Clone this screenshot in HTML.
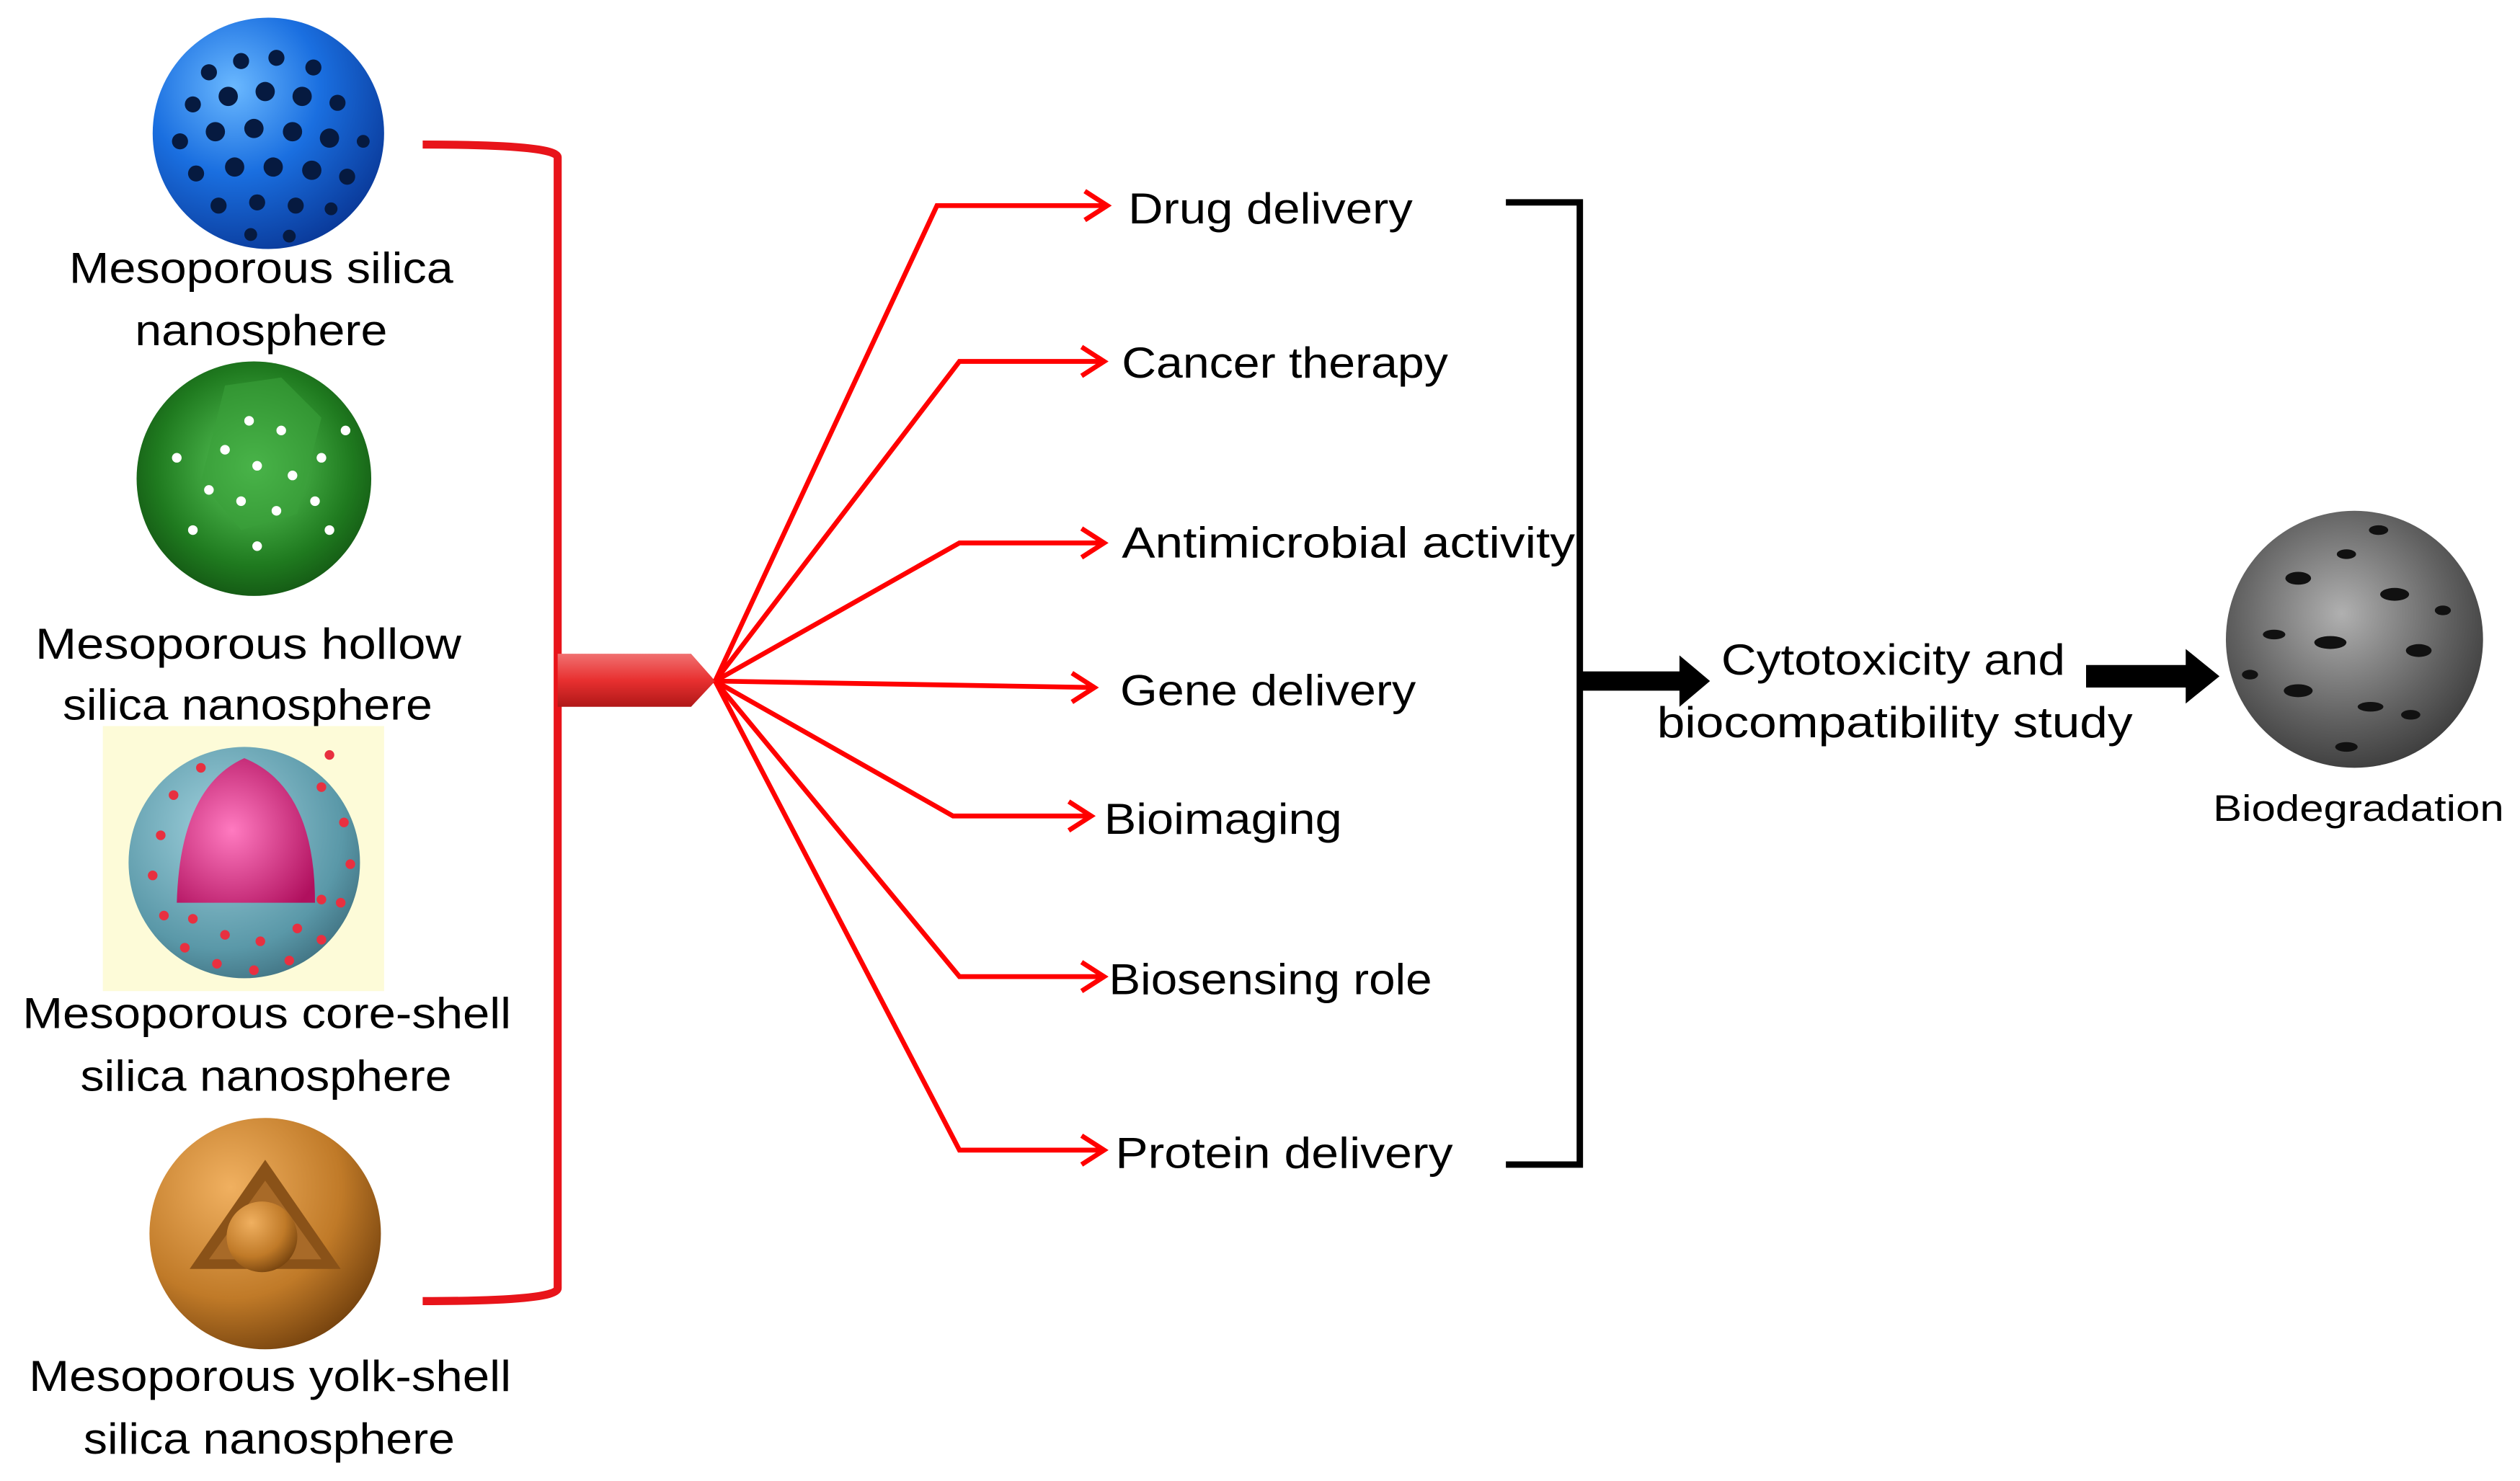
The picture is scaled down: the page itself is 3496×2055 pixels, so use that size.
<!DOCTYPE html>
<html><head><meta charset="utf-8"><style>
html,body{margin:0;padding:0;background:#fff;}
svg{display:block;}
text{font-family:"Liberation Sans",sans-serif;fill:#000;}
</style></head><body>
<svg width="3496" height="2055" viewBox="0 0 1568 922" preserveAspectRatio="none" xmlns="http://www.w3.org/2000/svg">
<defs>
<radialGradient id="gb" cx="0.35" cy="0.3" r="0.75"><stop offset="0" stop-color="#6ab8ff"/><stop offset="0.5" stop-color="#1a6fe0"/><stop offset="1" stop-color="#0a3a9a"/></radialGradient>
<radialGradient id="gg" cx="0.5" cy="0.45" r="0.7"><stop offset="0" stop-color="#5fd05f"/><stop offset="0.6" stop-color="#1f7a1f"/><stop offset="1" stop-color="#0a3a0a"/></radialGradient>
<radialGradient id="gt" cx="0.4" cy="0.35" r="0.75"><stop offset="0" stop-color="#9fd0dc"/><stop offset="0.7" stop-color="#5a98a8"/><stop offset="1" stop-color="#3a6878"/></radialGradient>
<radialGradient id="gm" cx="0.4" cy="0.5" r="0.7"><stop offset="0" stop-color="#ff7ac0"/><stop offset="1" stop-color="#b0105e"/></radialGradient>
<radialGradient id="go" cx="0.35" cy="0.3" r="0.8"><stop offset="0" stop-color="#f0b060"/><stop offset="0.6" stop-color="#c07a28"/><stop offset="1" stop-color="#6a3a0a"/></radialGradient>
<radialGradient id="gk" cx="0.45" cy="0.4" r="0.7"><stop offset="0" stop-color="#b0b0b0"/><stop offset="0.6" stop-color="#606060"/><stop offset="1" stop-color="#303030"/></radialGradient>
<linearGradient id="ar" x1="0" y1="0" x2="0" y2="1"><stop offset="0" stop-color="#f07070"/><stop offset="0.5" stop-color="#e83030"/><stop offset="1" stop-color="#b01818"/></linearGradient>
</defs>

<circle cx="167" cy="83" r="72" fill="url(#gb)"/>
<g fill="#061a40">
<circle cx="130" cy="45" r="5"/><circle cx="150" cy="38" r="5"/><circle cx="172" cy="36" r="5"/><circle cx="195" cy="42" r="5"/><circle cx="120" cy="65" r="5"/><circle cx="142" cy="60" r="6"/><circle cx="165" cy="57" r="6"/><circle cx="188" cy="60" r="6"/><circle cx="210" cy="64" r="5"/><circle cx="112" cy="88" r="5"/><circle cx="134" cy="82" r="6"/><circle cx="158" cy="80" r="6"/><circle cx="182" cy="82" r="6"/><circle cx="205" cy="86" r="6"/><circle cx="226" cy="88" r="4"/><circle cx="122" cy="108" r="5"/><circle cx="146" cy="104" r="6"/><circle cx="170" cy="104" r="6"/><circle cx="194" cy="106" r="6"/><circle cx="216" cy="110" r="5"/><circle cx="136" cy="128" r="5"/><circle cx="160" cy="126" r="5"/><circle cx="184" cy="128" r="5"/><circle cx="206" cy="130" r="4"/><circle cx="156" cy="146" r="4"/><circle cx="180" cy="147" r="4"/>
</g>
<text x="43" y="176" font-size="27" textLength="239" lengthAdjust="spacingAndGlyphs">Mesoporous silica</text>
<text x="84" y="215" font-size="27" textLength="157" lengthAdjust="spacingAndGlyphs">nanosphere</text>

<circle cx="158" cy="298" r="73" fill="url(#gg)"/>
<path d="M140 240 L175 235 L200 260 L185 320 L150 330 L125 300 Z" fill="#3aa03a" opacity="0.6"/>
<g fill="#fff">
<circle cx="155" cy="262" r="3"/><circle cx="175" cy="268" r="3"/><circle cx="140" cy="280" r="3"/><circle cx="160" cy="290" r="3"/><circle cx="182" cy="296" r="3"/><circle cx="200" cy="285" r="3"/><circle cx="130" cy="305" r="3"/><circle cx="150" cy="312" r="3"/><circle cx="172" cy="318" r="3"/><circle cx="196" cy="312" r="3"/><circle cx="120" cy="330" r="3"/><circle cx="205" cy="330" r="3"/><circle cx="160" cy="340" r="3"/><circle cx="215" cy="268" r="3"/><circle cx="110" cy="285" r="3"/>
</g>
<text x="22" y="410" font-size="27" textLength="265" lengthAdjust="spacingAndGlyphs">Mesoporous hollow</text>
<text x="39" y="448" font-size="27" textLength="230" lengthAdjust="spacingAndGlyphs">silica nanosphere</text>

<rect x="64" y="452" width="175" height="165" fill="#fdfbd8"/>
<circle cx="152" cy="537" r="72" fill="url(#gt)"/>
<g fill="#e83040">
<circle cx="100" cy="520" r="3"/><circle cx="95" cy="545" r="3"/><circle cx="102" cy="570" r="3"/><circle cx="115" cy="590" r="3"/><circle cx="135" cy="600" r="3"/><circle cx="158" cy="604" r="3"/><circle cx="180" cy="598" r="3"/><circle cx="200" cy="585" r="3"/><circle cx="212" cy="562" r="3"/><circle cx="218" cy="538" r="3"/><circle cx="214" cy="512" r="3"/><circle cx="120" cy="572" r="3"/><circle cx="140" cy="582" r="3"/><circle cx="162" cy="586" r="3"/><circle cx="185" cy="578" r="3"/><circle cx="200" cy="560" r="3"/><circle cx="108" cy="495" r="3"/><circle cx="125" cy="478" r="3"/><circle cx="200" cy="490" r="3"/><circle cx="205" cy="470" r="3"/>
</g>
<path d="M110 562 Q112 490 152 472 Q196 490 196 562 Z" fill="url(#gm)"/>
<text x="14" y="640" font-size="27" textLength="304" lengthAdjust="spacingAndGlyphs">Mesoporous core-shell</text>
<text x="50" y="679" font-size="27" textLength="231" lengthAdjust="spacingAndGlyphs">silica nanosphere</text>

<circle cx="165" cy="768" r="72" fill="url(#go)"/>
<path d="M118 790 L165 722 L212 790 Z" fill="#8a5218"/>
<path d="M130 784 L165 735 L200 784 Z" fill="#a86a28"/>
<circle cx="163" cy="770" r="22" fill="url(#go)"/>
<text x="18" y="866" font-size="27" textLength="300" lengthAdjust="spacingAndGlyphs">Mesoporous yolk-shell</text>
<text x="52" y="905" font-size="27" textLength="231" lengthAdjust="spacingAndGlyphs">silica nanosphere</text>

<path d="M263 90 Q347 90 347 98 L347 802 Q347 810 263 810" fill="none" stroke="#e8141a" stroke-width="5"/>
<path d="M347 407 L430 407 L445 424 L430 440 L347 440 Z" fill="url(#ar)"/>

<g fill="none" stroke="#ff0000" stroke-width="3">
<path d="M445 424 L583 128 L688 128"/>
<path d="M445 424 L597 225 L686 225"/>
<path d="M445 424 L597 338 L686 338"/>
<path d="M445 424 L680 428"/>
<path d="M445 424 L593 508 L678 508"/>
<path d="M445 424 L597 608 L686 608"/>
<path d="M445 424 L597 716 L686 716"/>
<path d="M675 119 L689 128 L675 137"/>
<path d="M673 216 L687 225 L673 234"/>
<path d="M673 329 L687 338 L673 347"/>
<path d="M667 419 L681 428 L667 437"/>
<path d="M665 499 L679 508 L665 517"/>
<path d="M673 599 L687 608 L673 617"/>
<path d="M673 707 L687 716 L673 725"/>
</g>
<g font-size="27">
<text x="702" y="139" textLength="177" lengthAdjust="spacingAndGlyphs">Drug delivery</text>
<text x="698" y="235" textLength="203" lengthAdjust="spacingAndGlyphs">Cancer therapy</text>
<text x="698" y="347" textLength="282" lengthAdjust="spacingAndGlyphs">Antimicrobial activity</text>
<text x="697" y="439" textLength="184" lengthAdjust="spacingAndGlyphs">Gene delivery</text>
<text x="687" y="519" textLength="148" lengthAdjust="spacingAndGlyphs">Bioimaging</text>
<text x="690" y="619" textLength="201" lengthAdjust="spacingAndGlyphs">Biosensing role</text>
<text x="694" y="727" textLength="210" lengthAdjust="spacingAndGlyphs">Protein delivery</text>
</g>

<path d="M937 126 L983 126 L983 725 L937 725" fill="none" stroke="#000" stroke-width="4"/>
<path d="M983 418 L1045 418 L1045 408 L1064 424 L1045 440 L1045 430 L983 430 Z" fill="#000"/>
<text x="1071" y="420" font-size="27" textLength="214" lengthAdjust="spacingAndGlyphs">Cytotoxicity and</text>
<text x="1031" y="459" font-size="27" textLength="296" lengthAdjust="spacingAndGlyphs">biocompatibility study</text>
<path d="M1298 414 L1360 414 L1360 404 L1381 421 L1360 438 L1360 428 L1298 428 Z" fill="#000"/>

<circle cx="1465" cy="398" r="80" fill="url(#gk)"/>
<g fill="#111">
<ellipse cx="1430" cy="360" rx="8" ry="4"/><ellipse cx="1460" cy="345" rx="6" ry="3"/><ellipse cx="1490" cy="370" rx="9" ry="4"/><ellipse cx="1415" cy="395" rx="7" ry="3"/><ellipse cx="1450" cy="400" rx="10" ry="4"/><ellipse cx="1505" cy="405" rx="8" ry="4"/><ellipse cx="1430" cy="430" rx="9" ry="4"/><ellipse cx="1475" cy="440" rx="8" ry="3"/><ellipse cx="1520" cy="380" rx="5" ry="3"/><ellipse cx="1400" cy="420" rx="5" ry="3"/><ellipse cx="1460" cy="465" rx="7" ry="3"/><ellipse cx="1500" cy="445" rx="6" ry="3"/><ellipse cx="1480" cy="330" rx="6" ry="3"/>
</g>
<text x="1377" y="511" font-size="23" textLength="181" lengthAdjust="spacingAndGlyphs">Biodegradation</text>
</svg>
</body></html>
